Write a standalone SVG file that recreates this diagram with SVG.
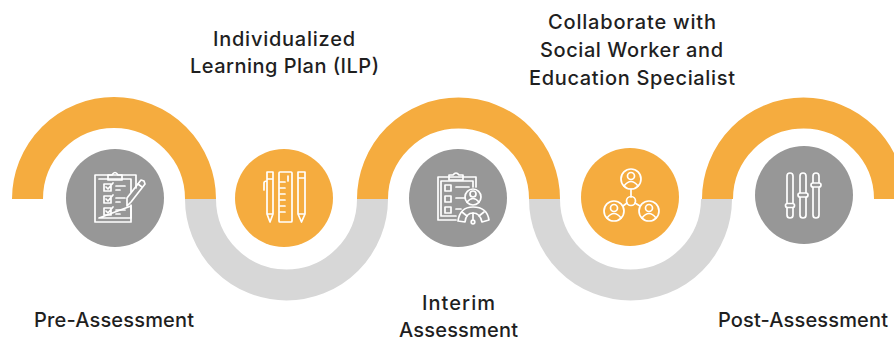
<svg xmlns="http://www.w3.org/2000/svg" width="894" height="341" viewBox="0 0 894 341">
<style>
.o{fill:none;stroke:#f5ac3f;stroke-width:31}
.g{fill:none;stroke:#d7d7d7;stroke-width:31}
.cg{fill:#979797}
.co{fill:#f5ac3f}
.i{fill:none;stroke:#fff;stroke-width:1.7;stroke-linejoin:round;stroke-linecap:round}
.t{font-family:Inter,"Liberation Sans",sans-serif;font-size:20px;font-weight:500;fill:#1f1f1f;text-anchor:middle}
</style>
<rect width="894" height="341" fill="#fff"/>
<g id="connectors">
<path class="g" d="M200.500 199A86 86 0 0 0 372.500 199"/>
<path class="g" d="M544.500 199A86 86 0 0 0 716.500 199"/>
<path class="o" d="M27.500 199A86.500 86.500 0 0 1 200.500 199"/>
<path class="o" d="M372.500 199A86 86 0 0 1 544.500 199"/>
<path class="o" d="M717.500 199A86 86 0 0 1 889.500 199"/>
</g>
<g id="node-pre-assessment">
<circle class="cg" cx="115" cy="198" r="49"/>
<g class="i">
<path d="M131 205V222H95V175H136V188"/>
<path d="M99 179H131V192M131 206V218H99Z"/>
<path d="M108 180V175H112Q115 170 118 175H122V180Z"/>
<path d="M104 184H111V191H104ZM106 187L108 189L113 183M116 186H125M116 190H120"/>
<path d="M104 196H111V203H104ZM106 199L108 201L113 195M116 198H125M116 202H120"/>
<path d="M104 208H111V215H104ZM106 211L108 213L113 207M116 210H125M116 214H120"/>
<path d="M127 198L141 180L144 181L145 184L131 202L127 206Z"/>
<path d="M138 184L142 187"/>
</g>
<text class="t" x="114" y="327" textLength="160">Pre-Assessment</text>
</g>
<g id="node-ilp">
<circle class="co" cx="284" cy="198" r="49"/>
<g class="i">
<path d="M267 172H273V179H267ZM267 179H273V214L270 222L267 214ZM267 214H273M264 190V183Q264 181 267 181"/>
<rect x="279" y="172" width="13" height="50" rx="1"/>
<path d="M288 176V181M280 182H285M280 188H285M280 194H285M280 200H285M280 206H285M280 212H285"/>
<path d="M298 172H305V178H298ZM298 178H305V214L301.500 222L298 214ZM298 214H305"/>
</g>
<text class="t" x="284" y="46" textLength="142">Individualized</text>
<text class="t" x="284.500" y="73" textLength="189">Learning Plan (ILP)</text>
</g>
<g id="node-interim-assessment">
<circle class="cg" cx="458" cy="198" r="49"/>
<g class="i">
<path d="M456 220H438V177H476V187"/>
<path d="M456 216H441V181H473V187"/>
<path d="M449 180V175H453Q456 171 459 175H463V180Z"/>
<path d="M445 185H451V191H445ZM445 196H451V202H445ZM445 207H451V213H445ZM456 187H469M456 198H465M456 209H461"/>
<circle cx="473" cy="197" r="8"/>
<circle cx="473" cy="194" r="3"/>
<path d="M467 202Q473 195 479 202"/>
<path d="M458 221Q460 207 473 207Q487 207 489 220L482 222Q480 213 473 213Q466 213 465 222Z"/>
<path d="M462 212L467 216M484 212L479 216M473 213V220"/>
<circle cx="473" cy="222" r="1.800"/>
</g>
<text class="t" x="458.500" y="310" textLength="73">Interim</text>
<text class="t" x="458.500" y="337" textLength="119">Assessment</text>
</g>
<g id="node-collaborate">
<circle class="co" cx="630" cy="197" r="49"/>
<g class="i">
<circle cx="631" cy="179" r="10"/>
<circle cx="631" cy="176" r="3.500"/>
<path d="M624 186Q631 177 638 186"/>
<circle cx="614" cy="211" r="10"/>
<circle cx="614" cy="208" r="3.500"/>
<path d="M607 218Q614 209 621 218"/>
<circle cx="649" cy="211" r="10"/>
<circle cx="649" cy="208" r="3.500"/>
<path d="M642 218Q649 209 656 218"/>
<circle cx="631" cy="201" r="4.500"/>
<path d="M631 189V197M627 203L623 206M635 203L640 206"/>
</g>
<text class="t" x="632" y="29" textLength="168">Collaborate with</text>
<text class="t" x="631.500" y="57" textLength="183">Social Worker and</text>
<text class="t" x="632" y="85" textLength="206">Education Specialist</text>
</g>
<g id="node-post-assessment">
<circle class="cg" cx="804" cy="195" r="49"/>
<g class="i">
<rect x="787" y="173" width="6" height="45" rx="3"/>
<rect x="785.500" y="203.500" width="9" height="4" rx="2" fill="#979797"/>
<rect x="800" y="173" width="6" height="45" rx="3"/>
<rect x="798" y="193" width="10" height="4" rx="2" fill="#979797"/>
<rect x="813" y="173" width="6" height="45" rx="3"/>
<rect x="811" y="183" width="10" height="4" rx="2" fill="#979797"/>
</g>
<text class="t" x="803" y="327" textLength="170">Post-Assessment</text>
</g>
</svg>
